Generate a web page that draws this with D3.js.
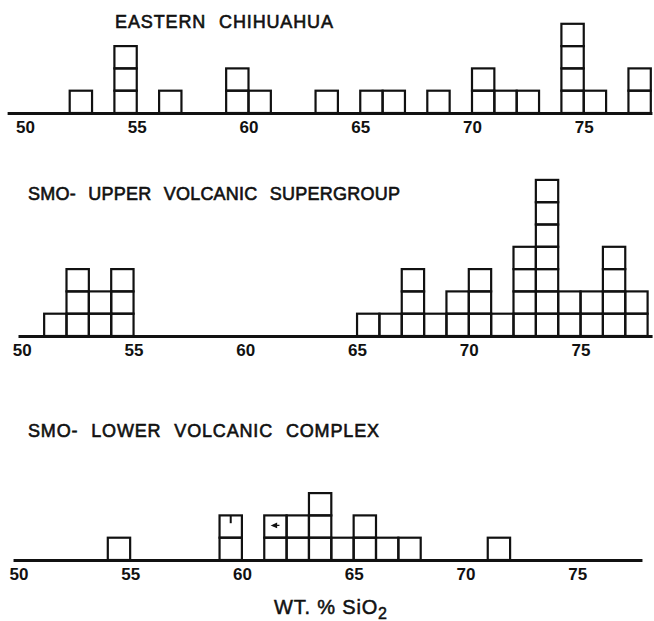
<!DOCTYPE html>
<html>
<head>
<meta charset="utf-8">
<script src="https://cdn.jsdelivr.net/npm/d3@7"></script>
<style>
  body { margin: 0; background: #fff; }
  svg { display: block; }
</style>
</head>
<body>
<svg id="chart" width="654" height="621"></svg>
<script>
// tick labels along each baseline
var tickLabels = [50, 55, 60, 65, 70, 75];

// histogram bins (left edge, wt.% SiO2) and number of samples in each
var chihuahuaBins   = [52, 54, 56, 59, 60, 63, 65, 66, 68, 70, 71, 72, 74, 75, 77];
var chihuahuaCounts = [1, 3, 1, 2, 1, 1, 1, 1, 1, 2, 1, 1, 4, 1, 2];

var upperBins   = [51, 52, 53, 54, 65, 66, 67, 68, 69, 70, 71, 72, 73, 74, 75, 76, 77];
var upperCounts = [1, 3, 2, 3, 1, 1, 3, 1, 2, 3, 1, 4, 7, 2, 2, 4, 2];

var lowerBins   = [54, 59, 61, 62, 63, 64, 65, 66, 67, 71];
var lowerCounts = [1, 2, 2, 2, 3, 1, 2, 1, 1, 1];

var titles = ["EASTERN CHIHUAHUA", "SMO- UPPER VOLCANIC SUPERGROUP", "SMO- LOWER VOLCANIC COMPLEX"];

var svg = d3.select("#chart");
var unitW = 22.35, unitH = 22.3;
var font = "'Liberation Sans', Arial, sans-serif";

// layout of the three panels
var panels = [
  { title: titles[0], bins: chihuahuaBins, counts: chihuahuaCounts,
    base: 113, x50: 25, lo: 49.2, hi: 78.05, tx: 115, ty: 28, tw: 218 },
  { title: titles[1], bins: upperBins, counts: upperCounts,
    base: 336, x50: 21.8, lo: 49.83, hi: 78.2, tx: 28, ty: 200, tw: 372 },
  { title: titles[2], bins: lowerBins, counts: lowerCounts,
    base: 560, x50: 18.4, lo: 49.76, hi: 77.9, tx: 28, ty: 437, tw: 351 }
];

panels.forEach(function (p, i) {
  var g = svg.append("g");

  var x = d3.scaleLinear()
    .domain([p.lo, p.hi])
    .range([p.x50 + (p.lo - 50) * unitW, p.x50 + (p.hi - 50) * unitW]);
  var y = d3.scaleLinear().domain([0, 1]).range([p.base, p.base - unitH]);

  // one cell per sample, stacked
  var cells = [];
  p.bins.forEach(function (b, j) {
    for (var k = 0; k < p.counts[j]; k++) cells.push({ bin: b, level: k });
  });

  g.selectAll("rect.cell")
    .data(cells)
    .enter().append("rect")
    .attr("class", "cell")
    .attr("x", function (d) { return x(d.bin); })
    .attr("y", function (d) { return y(d.level + 1); })
    .attr("width", function (d) { return x(d.bin + 1) - x(d.bin); })
    .attr("height", function (d) { return y(d.level) - y(d.level + 1); })
    .attr("fill", "none")
    .attr("stroke", "#111")
    .attr("stroke-width", 2.2);

  var axis = d3.axisBottom(x)
    .tickValues(tickLabels)
    .tickSize(0)
    .tickSizeOuter(0)
    .tickPadding(8)
    .tickFormat(d3.format("d"));

  var ax = g.append("g")
    .attr("transform", "translate(0," + p.base + ")")
    .call(axis);
  ax.select(".domain").attr("stroke", "#111").attr("stroke-width", 2.8);
  ax.selectAll("text")
    .attr("fill", "#111")
    .style("font-family", font)
    .style("font-size", "17px")
    .style("font-weight", "bold");

  g.append("text")
    .attr("x", p.tx)
    .attr("y", p.ty)
    .attr("textLength", p.tw)
    .attr("lengthAdjust", "spacing")
    .attr("fill", "#111")
    .attr("stroke", "#111")
    .attr("stroke-width", 0.6)
    .style("font-family", font)
    .style("font-size", "18px")
    .style("word-spacing", "7px")
    .text(p.title);

  p.x = x; p.y = y; p.g = g;
});

// small hand marks inside two cells of the lower panel
var lp = panels[2];
lp.g.append("line")
  .attr("x1", lp.x(59.5)).attr("x2", lp.x(59.5))
  .attr("y1", lp.y(2)).attr("y2", lp.y(1.65))
  .attr("stroke", "#111").attr("stroke-width", 2);
lp.g.append("path")
  .attr("d", "M" + lp.x(61.35) + "," + lp.y(1.55) +
             "L" + lp.x(61.55) + "," + lp.y(1.64) +
             "L" + lp.x(61.55) + "," + lp.y(1.46) + "Z" +
             "M" + lp.x(61.5) + "," + lp.y(1.55) +
             "L" + lp.x(61.68) + "," + lp.y(1.55))
  .attr("fill", "#111").attr("stroke", "#111").attr("stroke-width", 1.2);

// x-axis title
var at = svg.append("text")
  .attr("x", 274)
  .attr("y", 614)
  .attr("textLength", 113)
  .attr("lengthAdjust", "spacing")
  .attr("fill", "#111")
  .attr("stroke", "#111")
  .attr("stroke-width", 0.5)
  .style("font-family", font)
  .style("font-size", "20px");
at.append("tspan").text("WT.  % SiO");
at.append("tspan").attr("dy", 5).style("font-size", "16px").text("2");
</script>
</body>
</html>
